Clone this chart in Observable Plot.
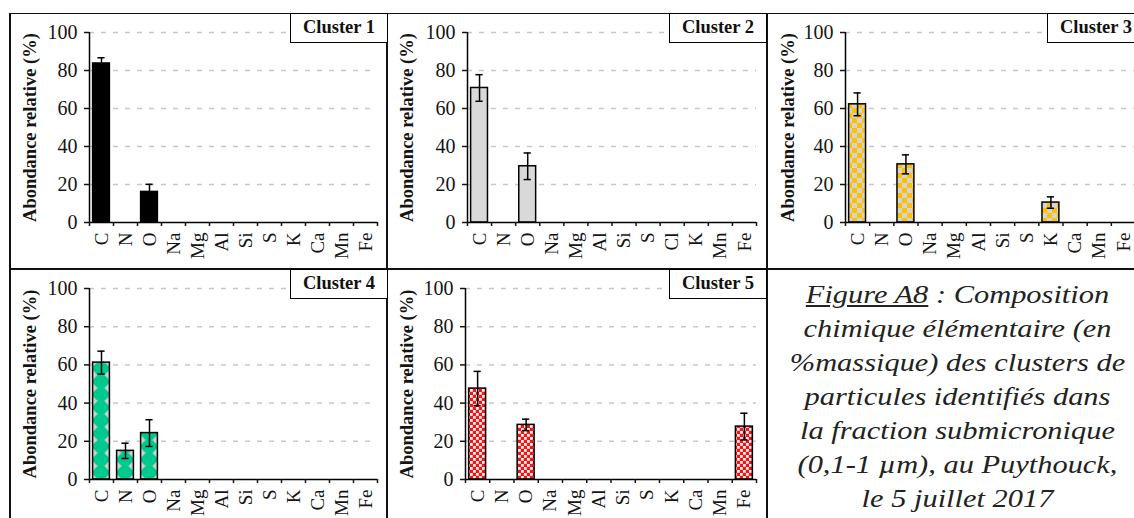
<!DOCTYPE html>
<html>
<head>
<meta charset="utf-8">
<script src="https://cdn.jsdelivr.net/npm/d3@7"></script>
<script src="https://cdn.jsdelivr.net/npm/@observablehq/plot@0.6"></script>
<style>
  html, body { margin: 0; padding: 0; background: #fff; }
  #page { position: relative; width: 1134px; height: 518px; overflow: hidden; background: #fff; font-family: "Liberation Serif", "Times New Roman", serif; }
  .panel { position: absolute; }
  .panel svg { max-width: none !important; display: block; }
  .line { position: absolute; background: #111; }
  .lab { position: absolute; box-sizing: border-box; border: 1.5px solid #000; background: #fff; font-weight: bold; font-size: 18.5px; text-align: center; line-height: 26px; color: #111; z-index: 5; }
  #caption { position: absolute; left: 767px; top: 278px; width: 381px; text-align: center; font-style: italic; font-size: 26px; line-height: 34px; color: #222; transform: scaleX(1.17); transform-origin: 50% 0; white-space: nowrap; }
</style>
</head>
<body>
<svg width="0" height="0" style="position:absolute">
  <defs>
    <pattern id="checkYellow" patternUnits="userSpaceOnUse" width="10" height="10">
      <rect width="10" height="10" fill="#d4d4d4"></rect>
      <rect x="0" y="0" width="5" height="5" fill="#ffc000"></rect>
      <rect x="5" y="5" width="5" height="5" fill="#ffc000"></rect>
    </pattern>
    <pattern id="diamondGreen" patternUnits="userSpaceOnUse" width="24" height="13" patternTransform="translate(83.6,210)">
      <rect width="24" height="13" fill="#00c98d"></rect>
      <polygon points="0,-5 5,0 0,5 -5,0" fill="#d0d0d0"></polygon>
      <polygon points="0,8 5,13 0,18 -5,13" fill="#d0d0d0"></polygon>
      <polygon points="16.8,-5 21.8,0 16.8,5 11.8,0" fill="#d0d0d0"></polygon>
      <polygon points="16.8,8 21.8,13 16.8,18 11.8,13" fill="#d0d0d0"></polygon>
      <polygon points="24,-5 29,0 24,5 19,0" fill="#d0d0d0"></polygon>
      <polygon points="24,8 29,13 24,18 19,13" fill="#d0d0d0"></polygon>
    </pattern>
    <pattern id="checkRed" patternUnits="userSpaceOnUse" width="6" height="6">
      <rect width="6" height="6" fill="#ff1010"></rect>
      <rect x="0" y="0" width="2.8" height="2.8" fill="#f4f4f4"></rect>
      <rect x="3" y="3" width="2.8" height="2.8" fill="#f4f4f4"></rect>
    </pattern>
  </defs>
</svg>
<div id="page"></div>
<script>
// ---------------- data ----------------
const yTicks = [0, 20, 40, 60, 80, 100];
const gridTicks = [20, 40, 60, 80, 100];
const yLabel = "Abondance relative (%)";
const clusterNames = ["Cluster 1", "Cluster 2", "Cluster 3", "Cluster 4", "Cluster 5"];

const elements1 = ["C", "N", "O", "Na", "Mg", "Al", "Si", "S", "K", "Ca", "Mn", "Fe"];
const values1   = [83.7, 0, 16.1, 0, 0, 0, 0, 0, 0, 0, 0, 0];
const errors1   = [3, 0, 4, 0, 0, 0, 0, 0, 0, 0, 0, 0];

const elements2 = ["C", "N", "O", "Na", "Mg", "Al", "Si", "S", "Cl", "K", "Mn", "Fe"];
const values2   = [70.8, 0, 29.6, 0, 0, 0, 0, 0, 0, 0, 0, 0];
const errors2   = [7, 0, 7, 0, 0, 0, 0, 0, 0, 0, 0, 0];

const elements3 = ["C", "N", "O", "Na", "Mg", "Al", "Si", "S", "K", "Ca", "Mn", "Fe"];
const values3   = [62.2, 0, 30.6, 0, 0, 0, 0, 0, 10.5, 0, 0, 0];
const errors3   = [6, 0, 5, 0, 0, 0, 0, 0, 3, 0, 0, 0];

const elements4 = ["C", "N", "O", "Na", "Mg", "Al", "Si", "S", "K", "Ca", "Mn", "Fe"];
const values4   = [61.2, 15.0, 24.3, 0, 0, 0, 0, 0, 0, 0, 0, 0];
const errors4   = [6, 4, 7, 0, 0, 0, 0, 0, 0, 0, 0, 0];

const elements5 = ["C", "N", "O", "Na", "Mg", "Al", "Si", "S", "K", "Ca", "Mn", "Fe"];
const values5   = [47.6, 0, 28.6, 0, 0, 0, 0, 0, 0, 0, 0, 27.7];
const errors5   = [9, 0, 3, 0, 0, 0, 0, 0, 0, 0, 0, 7];

const captionLines = [
  "Composition",
  "chimique élémentaire (en",
  "%massique) des clusters de",
  "particules identifiés dans",
  "la fraction submicronique",
  "(0,1-1 µm), au Puythouck,",
  "le 5 juillet 2017"
];
const captionLead = "Figure A8";

// ---------------- styling / layout ----------------
const fills = ["#000000", "#d9d9d9", "url(#checkYellow)", "url(#diamondGreen)", "url(#checkRed)"];
const specs = [
  {left: 9,   top: 13,  W: 377, H: 256, ml: 80, mr: 9,  mt: 19, mb: 47},
  {left: 386, top: 13,  W: 381, H: 256, ml: 81, mr: 11, mt: 19, mb: 47},
  {left: 767, top: 13,  W: 381, H: 256, ml: 78, mr: 13, mt: 19, mb: 47},
  {left: 9,   top: 269, W: 377, H: 249, ml: 80, mr: 9,  mt: 19, mb: 39},
  {left: 386, top: 269, W: 381, H: 249, ml: 79, mr: 11, mt: 19, mb: 39}
];
const labelBoxes = [
  {left: 290, top: 12.5}, {left: 669, top: 12.5}, {left: 1047, top: 12.5},
  {left: 290, top: 268.5}, {left: 669, top: 268.5}
];

const page = document.getElementById("page");

function panel(elements, values, errors, fill, spec) {
  const rows = elements.map((e, i) => ({e, i, v: values[i], err: errors[i]})).filter(d => d.v > 0);
  return Plot.plot({
    width: spec.W, height: spec.H,
    marginLeft: spec.ml, marginRight: spec.mr, marginTop: spec.mt, marginBottom: spec.mb,
    x: {type: "linear", domain: [0, elements.length]},
    y: {domain: [0, 100]},
    style: {fontFamily: '"Liberation Serif", "Times New Roman", serif', fontSize: "19px", color: "#141414", background: "none", overflow: "visible", maxWidth: "none"},
    marks: [
      Plot.ruleY(gridTicks, {stroke: "#c8c8c8", strokeWidth: 1.5, strokeDasharray: "5 7"}),
      Plot.rect(rows, {x1: d => d.i + 0.15, x2: d => d.i + 0.85, y1: 0, y2: "v", fill, stroke: "#000", strokeWidth: 1.5}),
      Plot.ruleX(rows, {x: d => d.i + 0.5, y1: d => d.v - d.err, y2: d => d.v + d.err, stroke: "#000", strokeWidth: 1.5}),
      Plot.ruleY(rows, {y: d => d.v + d.err, x1: d => d.i + 0.35, x2: d => d.i + 0.65, stroke: "#000", strokeWidth: 1.5}),
      Plot.ruleY(rows, {y: d => d.v - d.err, x1: d => d.i + 0.35, x2: d => d.i + 0.65, stroke: "#000", strokeWidth: 1.5}),
      Plot.ruleY([0], {stroke: "#000", strokeWidth: 1.5}),
      Plot.ruleX([0], {y1: 0, y2: 100, stroke: "#000", strokeWidth: 1.5}),
      Plot.axisY({ticks: yTicks, tickSize: 5, tickPadding: 7, label: null, strokeWidth: 1.5, fontSize: 20}),
      Plot.axisX({ticks: d3.range(elements.length + 1), tickSize: 4, tickFormat: () => "", label: null, strokeWidth: 1.5}),
      Plot.axisX({ticks: d3.range(elements.length).map(i => i + 0.5), tickSize: 0, tickPadding: 10, tickRotate: -90,
                  tickFormat: v => elements[Math.floor(v)], label: null, fontSize: 19}),
      Plot.text([yLabel], {frameAnchor: "left", textAnchor: "middle", lineAnchor: "middle", rotate: -90,
                           dx: 21 - spec.ml, fontWeight: "bold", fontSize: 18.5, fill: "#141414"})
    ]
  });
}

const data = [
  [elements1, values1, errors1],
  [elements2, values2, errors2],
  [elements3, values3, errors3],
  [elements4, values4, errors4],
  [elements5, values5, errors5]
];

data.forEach(([el, v, e], k) => {
  const s = specs[k];
  const wrap = document.createElement("div");
  wrap.className = "panel";
  wrap.style.left = s.left + "px";
  wrap.style.top = s.top + "px";
  wrap.style.width = s.W + "px";
  wrap.style.height = s.H + "px";
  wrap.appendChild(panel(el, v, e, fills[k], s));
  page.appendChild(wrap);
});

// cell borders
[
  {left: 9, top: 12.5, width: 1125, height: 1.5},
  {left: 9, top: 268, width: 1125, height: 1.5},
  {left: 9, top: 12.5, width: 1.5, height: 506},
  {left: 386, top: 12.5, width: 1.5, height: 506},
  {left: 766, top: 12.5, width: 1.5, height: 506}
].forEach(b => {
  const d = document.createElement("div");
  d.className = "line";
  Object.entries(b).forEach(([k, v]) => d.style[k] = v + "px");
  page.appendChild(d);
});

clusterNames.forEach((name, k) => {
  const d = document.createElement("div");
  d.className = "lab";
  d.style.left = labelBoxes[k].left + "px";
  d.style.top = labelBoxes[k].top + "px";
  d.style.width = "98px";
  d.style.height = "30px";
  d.textContent = name;
  page.appendChild(d);
});

const cap = document.createElement("div");
cap.id = "caption";
const u = document.createElement("span");
u.style.textDecoration = "underline";
u.textContent = captionLead;
cap.appendChild(u);
cap.appendChild(document.createTextNode(" : " + captionLines[0]));
captionLines.slice(1).forEach(line => {
  cap.appendChild(document.createElement("br"));
  cap.appendChild(document.createTextNode(line));
});
page.appendChild(cap);
</script>
</body>
</html>
